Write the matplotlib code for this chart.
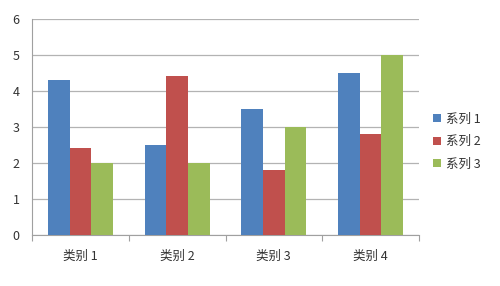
import numpy as np
import matplotlib.pyplot as plt

plt.rcParams['font.family'] = ['Noto Sans CJK SC', 'DejaVu Sans']

categories = ['类别 1', '类别 2', '类别 3', '类别 4']
series_names = ['系列 1', '系列 2', '系列 3']
s1 = [4.3, 2.5, 3.5, 4.5]
s2 = [2.4, 4.4, 1.8, 2.8]
s3 = [2.0, 2.0, 3.0, 5.0]
colors = ['#4F81BD', '#C0504D', '#9BBB59']

fig = plt.figure(figsize=(5, 2.86), dpi=100)
ax = fig.add_axes([0.064, 0.180, 0.774, 0.754])

x = np.arange(len(categories))
w = 0.224
for k, vals in enumerate([s1, s2, s3]):
    ax.bar(x + (k - 1) * w, vals, width=w, color=colors[k], label=series_names[k], zorder=3)

ax.set_xlim(-0.5, 3.5)
ax.set_ylim(0, 6)
ax.set_yticks(range(0, 7))
ax.yaxis.grid(True, color='#B3B3B3', linewidth=0.9, zorder=0)
ax.tick_params(axis='y', length=0, labelsize=9, pad=9, colors='#333333')

ax.set_xticks(np.arange(-0.5, 4.0, 1.0))
ax.set_xticklabels([])
ax.tick_params(axis='x', which='major', length=4, color='#A0A0A0', direction='out')
ax.set_xticks(x, minor=True)
ax.set_xticklabels(categories, minor=True)
ax.tick_params(axis='x', which='minor', length=0, labelsize=9, pad=11, colors='#333333')

for side in ['top', 'right']:
    ax.spines[side].set_visible(False)
for side in ['left', 'bottom']:
    ax.spines[side].set_color('#A0A0A0')

leg = ax.legend(loc='center left', bbox_to_anchor=(0.856, 0.505), bbox_transform=fig.transFigure,
                frameon=False, fontsize=9, handlelength=0.6, handleheight=0.6,
                handletextpad=0.45, labelspacing=0.75, borderaxespad=0)
for t in leg.get_texts():
    t.set_color('#333333')

fig.savefig('out.png', dpi=100)
